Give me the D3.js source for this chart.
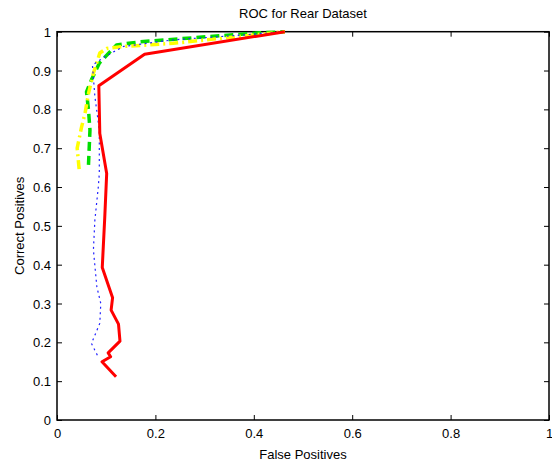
<!DOCTYPE html>
<html><head><meta charset="utf-8">
<script src="https://cdn.jsdelivr.net/npm/d3@7"></script>
<style>body{margin:0;background:#fff}text{font-family:"Liberation Sans",Arial,sans-serif;fill:#000}</style>
</head><body><svg id="c" width="552" height="463"></svg>
<script>
const title = "ROC for Rear Dataset";
const xLabel = "False Positives";
const yLabel = "Correct Positives";
const xTicks = [0, 0.2, 0.4, 0.6, 0.8, 1];
const yTicks = [0, 0.1, 0.2, 0.3, 0.4, 0.5, 0.6, 0.7, 0.8, 0.9, 1];

const blueX = [0.082,0.070,0.087,0.089,0.081,0.074,0.077,0.084,0.086,0.086,0.077,0.072,0.098,0.135,0.236,0.372,0.463];
const blueY = [0.167,0.197,0.249,0.300,0.343,0.438,0.515,0.601,0.635,0.747,0.833,0.914,0.936,0.962,0.979,0.991,1.0];

const greenX = [0.064,0.067,0.064,0.060,0.070,0.086,0.121,0.169,0.304,0.413,0.463];
const greenY = [0.657,0.747,0.798,0.845,0.876,0.919,0.966,0.974,0.987,0.997,1.0];

const yellowX = [0.045,0.041,0.050,0.057,0.064,0.074,0.087,0.101,0.135,0.236,0.372,0.463];
const yellowY = [0.646,0.700,0.755,0.790,0.841,0.893,0.945,0.957,0.962,0.970,0.988,1.0];

const redX = [0.120,0.0915,0.109,0.104,0.128,0.125,0.110,0.113,0.092,0.097,0.101,0.087,0.085,0.178,0.463];
const redY = [0.1115,0.150,0.163,0.173,0.203,0.247,0.283,0.315,0.393,0.520,0.635,0.738,0.861,0.942,1.0];

const L = 57, R = 549, T = 31.7, B = 420;
const svg = d3.select("#c");
const x = d3.scaleLinear().domain([0,1]).range([L,R]);
const y = d3.scaleLinear().domain([0,1]).range([B,T]);

const fmt = d => d === 0 ? "0" : d === 1 ? "1" : String(d);

const gB = svg.append("g").attr("transform",`translate(0,${B})`)
  .call(d3.axisBottom(x).tickValues(xTicks).tickFormat(fmt).tickSizeInner(-5).tickSizeOuter(0).tickPadding(9));
const gT = svg.append("g").attr("transform",`translate(0,${T})`)
  .call(d3.axisTop(x).tickValues(xTicks).tickFormat("").tickSizeInner(-5).tickSizeOuter(0));
const gL = svg.append("g").attr("transform",`translate(${L},0)`)
  .call(d3.axisLeft(y).tickValues(yTicks).tickFormat(fmt).tickSizeInner(-5).tickSizeOuter(0).tickPadding(6));
const gR = svg.append("g").attr("transform",`translate(${R},0)`)
  .call(d3.axisRight(y).tickValues(yTicks).tickFormat("").tickSizeInner(-5).tickSizeOuter(0));
[gB,gT,gL,gR].forEach(g=>{
  g.selectAll(".domain").remove();
  g.selectAll("line").attr("stroke","#000").attr("stroke-width",1);
  g.selectAll("text").attr("font-size",13).attr("font-family","Liberation Sans, Arial, sans-serif").attr("fill","#000");
});
gL.selectAll("text").attr("dy","0.35em");

svg.append("rect").attr("x",L).attr("y",T).attr("width",R-L).attr("height",B-T)
  .attr("fill","none").attr("stroke","#000").attr("stroke-width",1.5);

const line = d3.line().x(d=>x(d[0])).y(d=>y(d[1]));
function draw(xs, ys, color, w, dash){
  svg.append("path").datum(xs.map((v,i)=>[v,ys[i]])).attr("d",line)
    .attr("fill","none").attr("stroke",color).attr("stroke-width",w)
    .attr("stroke-dasharray",dash).attr("stroke-linejoin","round");
}
draw(greenX, greenY, "#00dd00", 3.5, "9,5");
draw(yellowX, yellowY, "#ffff00", 3.5, "9,4,2,4");
draw(blueX, blueY, "#2222ff", 1.2, "2,3.5");
draw(redX, redY, "#ff0000", 3, null);

svg.append("text").attr("x",(L+R)/2).attr("y",18).attr("text-anchor","middle").attr("font-size",13).text(title);
svg.append("text").attr("x",(L+R)/2).attr("y",459).attr("text-anchor","middle").attr("font-size",13).text(xLabel);
svg.append("text").attr("transform",`translate(24,${(T+B)/2}) rotate(-90)`).attr("text-anchor","middle").attr("font-size",13).text(yLabel);
</script></body></html>
